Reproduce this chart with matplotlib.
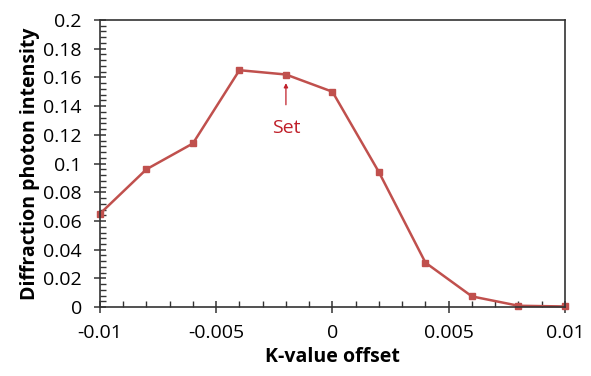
import numpy as np
import matplotlib.pyplot as plt
from matplotlib.ticker import MultipleLocator

plt.rcParams['font.family'] = ['Open Sans', 'DejaVu Sans']

k_offset = [-0.01, -0.008, -0.006, -0.004, -0.002, 0.0, 0.002, 0.004, 0.006, 0.008, 0.01]
intensity = [0.065, 0.096, 0.114, 0.165, 0.162, 0.150, 0.094, 0.031, 0.0075, 0.001, 0.0005]

fig = plt.figure(figsize=(5.91, 3.76), dpi=100)
ax = fig.add_axes([0.169, 0.183, 0.787, 0.764])

ax.plot(k_offset, intensity, color='#C0504D', lw=1.8, marker='s', ms=5, clip_on=False)

ax.annotate('Set', xy=(-0.002, 0.156), xytext=(-0.002, 0.125),
            color='#C0202A', fontsize=14, ha='center', va='center',
            arrowprops=dict(arrowstyle='-|>', color='#C0202A', lw=0.9,
                            mutation_scale=6, shrinkA=8, shrinkB=0))

ax.set_xlim(-0.01, 0.01)
ax.set_ylim(0, 0.2)
ax.xaxis.set_minor_locator(MultipleLocator(0.001))
ax.yaxis.set_minor_locator(MultipleLocator(0.004))
ax.set_xticks([-0.01, -0.005, 0, 0.005, 0.01])
ax.set_xticklabels(['-0.01', '-0.005', '0', '0.005', '0.01'])
ax.set_yticks(np.arange(0, 0.201, 0.02))
ax.set_yticklabels(['0', '0.02', '0.04', '0.06', '0.08', '0.1', '0.12',
                    '0.14', '0.16', '0.18', '0.2'])

ax.tick_params(which='major', direction='inout', length=8, width=1.1,
               color='#333333', labelsize=14, labelcolor='black')
ax.tick_params(which='minor', direction='in', length=4, width=1,
               color='#333333')
ax.tick_params(axis='x', which='major', pad=8)
ax.tick_params(axis='y', which='major', pad=9)

for s in ax.spines.values():
    s.set_color('#333333')
    s.set_linewidth(1.2)

ax.set_xlabel('K-value offset', fontsize=14, fontweight='bold', labelpad=4)
ax.set_ylabel('Diffraction photon intensity', fontsize=14, fontweight='bold', labelpad=2)

fig.savefig('out.png', dpi=100)
